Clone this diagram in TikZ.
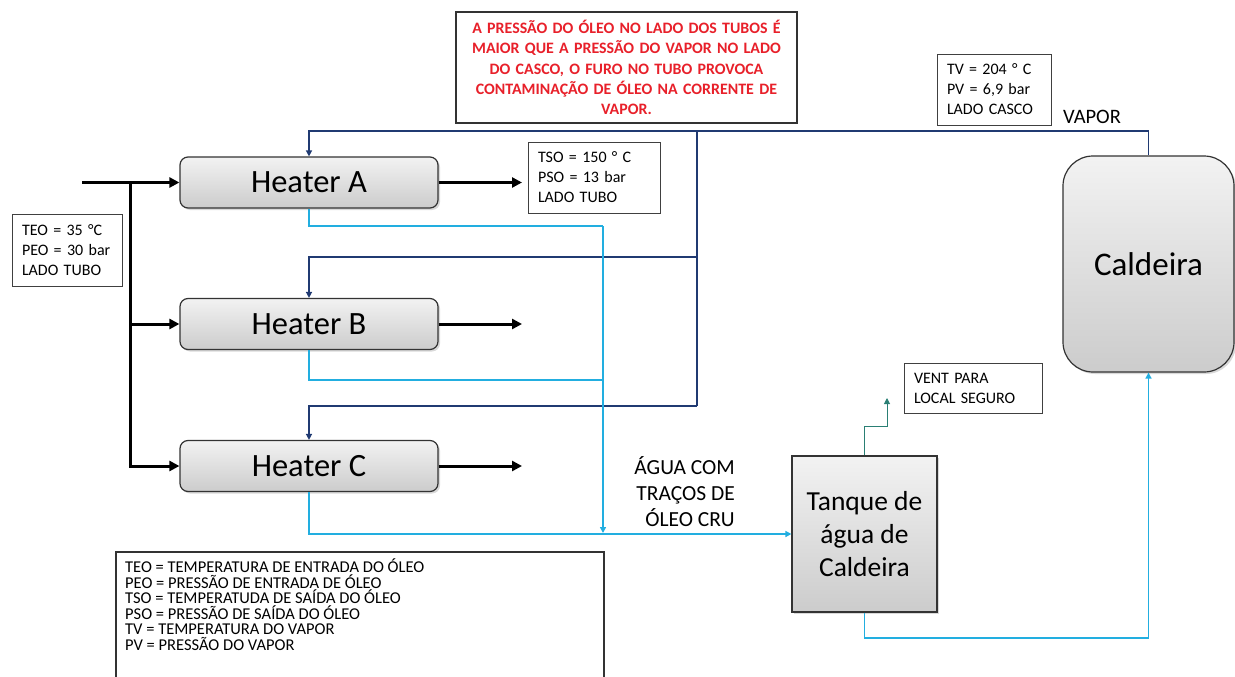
\documentclass[tikz,border=0pt]{standalone}
\usepackage{fontspec}
\setmainfont{Carlito}
\usetikzlibrary{arrows.meta,shadows}
\definecolor{navy}{HTML}{203A72}
\definecolor{cyanline}{HTML}{22AEE0}
\definecolor{ventc}{HTML}{2A7F74}
\definecolor{redtxt}{HTML}{E8202A}
\begin{document}
\begin{tikzpicture}[x=1pt,y=-1pt,
  unit/.style={draw=black!80, line width=1.2pt, top color=gray!10, bottom color=gray!40,
    drop shadow={opacity=0.3, shadow xshift=2pt, shadow yshift=-2pt}, inner sep=0pt, align=center},
  heater/.style={unit, rounded corners=8pt, minimum width=258pt, minimum height=51pt,
    font=\fontsize{32.5}{36}\selectfont},
  infobox/.style={draw=black!75, line width=0.9pt, fill=white, align=left, inner xsep=10pt, inner ysep=0pt,
    font=\fontsize{16}{20}\selectfont},
  oil/.style={draw=black, line width=3pt},
  oilarr/.style={-{Triangle[length=10pt,width=10pt]}},
  steam/.style={draw=navy, line width=1.8pt},
  water/.style={draw=cyanline, line width=1.8pt},
  smallarr/.style={-{Triangle[length=6pt,width=6pt]}},
  ventline/.style={draw=ventc, line width=0.9pt}
]
\clip (0,0) rectangle (1235,677);
\useasboundingbox (0,0) rectangle (1235,677);

% units
\node[heater] (ha) at (309,182.5) {Heater A};
\node[heater] (hb) at (309,324) {Heater B};
\node[heater] (hc) at (309,466) {Heater C};
\node[unit, rounded corners=30pt, minimum width=171pt, minimum height=216pt,
  font=\fontsize{33}{36}\selectfont] (cald) at (1148.5,264) {Caldeira};
\node[unit, minimum width=145pt, minimum height=156pt,
  font=\fontsize{27.5}{33}\selectfont] (tank) at (864.5,534) {Tanque de\\água de\\Caldeira};

% info boxes
\node[draw=black!80, line width=1.2pt, fill=white, minimum width=341pt, minimum height=111pt,
  text width=321pt, align=center, text=redtxt, inner sep=0pt,
  font=\bfseries\fontsize{15.9}{20.3}\selectfont] (note) at (626.5,67.5)
  {A PRESSÃO DO ÓLEO NO LADO DOS TUBOS É\\MAIOR QUE A PRESSÃO DO VAPOR NO LADO\\DO CASCO, O FURO NO TUBO PROVOCA\\CONTAMINAÇÃO DE ÓLEO NA CORRENTE DE\\VAPOR.};
\node[infobox, minimum width=114pt, minimum height=71pt, text width=94pt] (tv) at (994,89.5)
  {TV = 204 ° C\\PV = 6,9 bar\\LADO CASCO};
\node[infobox, minimum width=132pt, minimum height=71pt, text width=112pt] (tso) at (594,177.5)
  {TSO = 150 ° C\\PSO = 13 bar\\LADO TUBO};
\node[infobox, minimum width=110pt, minimum height=72pt, text width=90pt] (teo) at (67,250)
  {TEO = 35 °C\\PEO = 30 bar\\LADO TUBO};
\node[infobox, minimum width=138pt, minimum height=50pt, text width=118pt] (vbox) at (973,388)
  {VENT PARA\\LOCAL SEGURO};
\node[font=\fontsize{20.5}{24}\selectfont, inner sep=0pt] (vap) at (1092,117) {VAPOR};
\node[font=\fontsize{21.5}{26}\selectfont, align=right, anchor=east, inner sep=0pt] (agua) at (735,492)
  {ÁGUA COM\\TRAÇOS DE\\ÓLEO CRU};

% legend
\draw[black!80, line width=1.1pt] (116,552) rectangle (604,700);
\node[anchor=north west, align=left, inner sep=0pt, font=\fontsize{16.5}{15.5}\selectfont] (leg) at (125,559)
  {TEO = TEMPERATURA DE ENTRADA DO ÓLEO\\PEO = PRESSÃO DE ENTRADA DE ÓLEO\\TSO = TEMPERATUDA DE SAÍDA DO ÓLEO\\PSO = PRESSÃO DE SAÍDA DO ÓLEO\\TV = TEMPERATURA DO VAPOR\\PV = PRESSÃO DO VAPOR};

% coordinates
\coordinate (jn) at (697,131);
\coordinate (jB) at (697,257);
\coordinate (jC) at (697,406);
\coordinate (cA) at (603,226);
\coordinate (cB) at (603,380);
\coordinate (cM) at (603,533);
\coordinate (in) at (82,182.5);
\coordinate (bj) at (130,182.5);
\coordinate (oA) at (522,182.5);
\coordinate (oB) at (522,324);
\coordinate (oC) at (522,466);
\coordinate (vent) at (887,398);

% steam (navy)
\draw[steam, smallarr] (cald.north) |- (jn) -| (ha.north);
\draw[steam] (jn) -- (jC);
\draw[steam, smallarr] (jB) -| (hb.north);
\draw[steam, smallarr] (jC) -| (hc.north);

% condensate (cyan)
\draw[water] (ha.south) |- (cA);
\draw[water] (hb.south) |- (cB);
\draw[water, smallarr] (cA) -- (cM);
\draw[water, smallarr] (hc.south) |- (tank.west);
\draw[water, smallarr] (tank.south) -- ++(0,25) -| (cald.south);

% vent
\draw[ventline, -{Triangle[length=6pt,width=6pt]}] (tank.north) -- ++(0,-29) -| (vent);

% oil (black)
\draw[oil, oilarr] (in) -- (ha.west);
\draw[oil, oilarr] (bj) |- (hc.west);
\draw[oil, oilarr] (bj |- hb.west) -- (hb.west);
\draw[oil, oilarr] (ha.east) -- (oA);
\draw[oil, oilarr] (hb.east) -- (oB);
\draw[oil, oilarr] (hc.east) -- (oC);
\end{tikzpicture}
\end{document}
